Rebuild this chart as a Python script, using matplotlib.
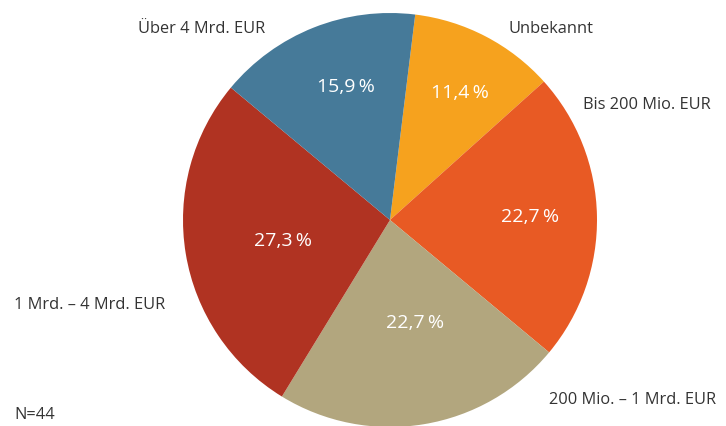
import matplotlib.pyplot as plt

# data, clockwise from the top
categories = ['Unbekannt', 'Bis 200 Mio. EUR', '200 Mio. \u2013 1 Mrd. EUR',
              '1 Mrd. \u2013 4 Mrd. EUR', 'Über 4 Mrd. EUR']
shares = [11.4, 22.7, 22.7, 27.3, 15.9]
n_total = 44

colors = ['#F6A21E', '#E85A24', '#B2A67E', '#B03322', '#467A99']

# label placement in pixel coords (x, y from top, ha)
label_pos = [(509, 29, 'left'), (583, 105, 'left'), (549, 400, 'left'),
             (14, 305, 'left'), (265, 29, 'right')]
pct_pos = [(460, 93), (530, 217), (415, 323), (283, 241), (346, 87)]

W, H = 726, 427
cx, cy, r = 390, 221, 207

fig = plt.figure(figsize=(W / 100, H / 100), dpi=100)
ax = fig.add_axes([0, 0, 1, 1])

wedges, _ = ax.pie(shares, colors=colors, startangle=83, counterclock=False,
                   center=(cx, H - cy), radius=r, frame=True,
                   wedgeprops=dict(linewidth=0))
ax.set_xlim(0, W)
ax.set_ylim(0, H)
ax.set_aspect('equal')
ax.axis('off')

font = 'Open Sans'
for val, (x, y) in zip(shares, pct_pos):
    ax.text(x, H - y, f'{val:.1f}'.replace('.', ',') + '\u2009%', color='white',
            fontsize=14, fontweight='medium', ha='center', va='center',
            family=[font, 'DejaVu Sans'])

for name, (x, y, ha) in zip(categories, label_pos):
    ax.text(x, H - y, name, color='#333333', fontsize=11.8, ha=ha, va='center',
            family=font)

ax.text(14, H - 415, f'N={n_total}', color='#333333', fontsize=11.8,
        ha='left', va='center', family=font)

fig.savefig('out.png', dpi=100)
